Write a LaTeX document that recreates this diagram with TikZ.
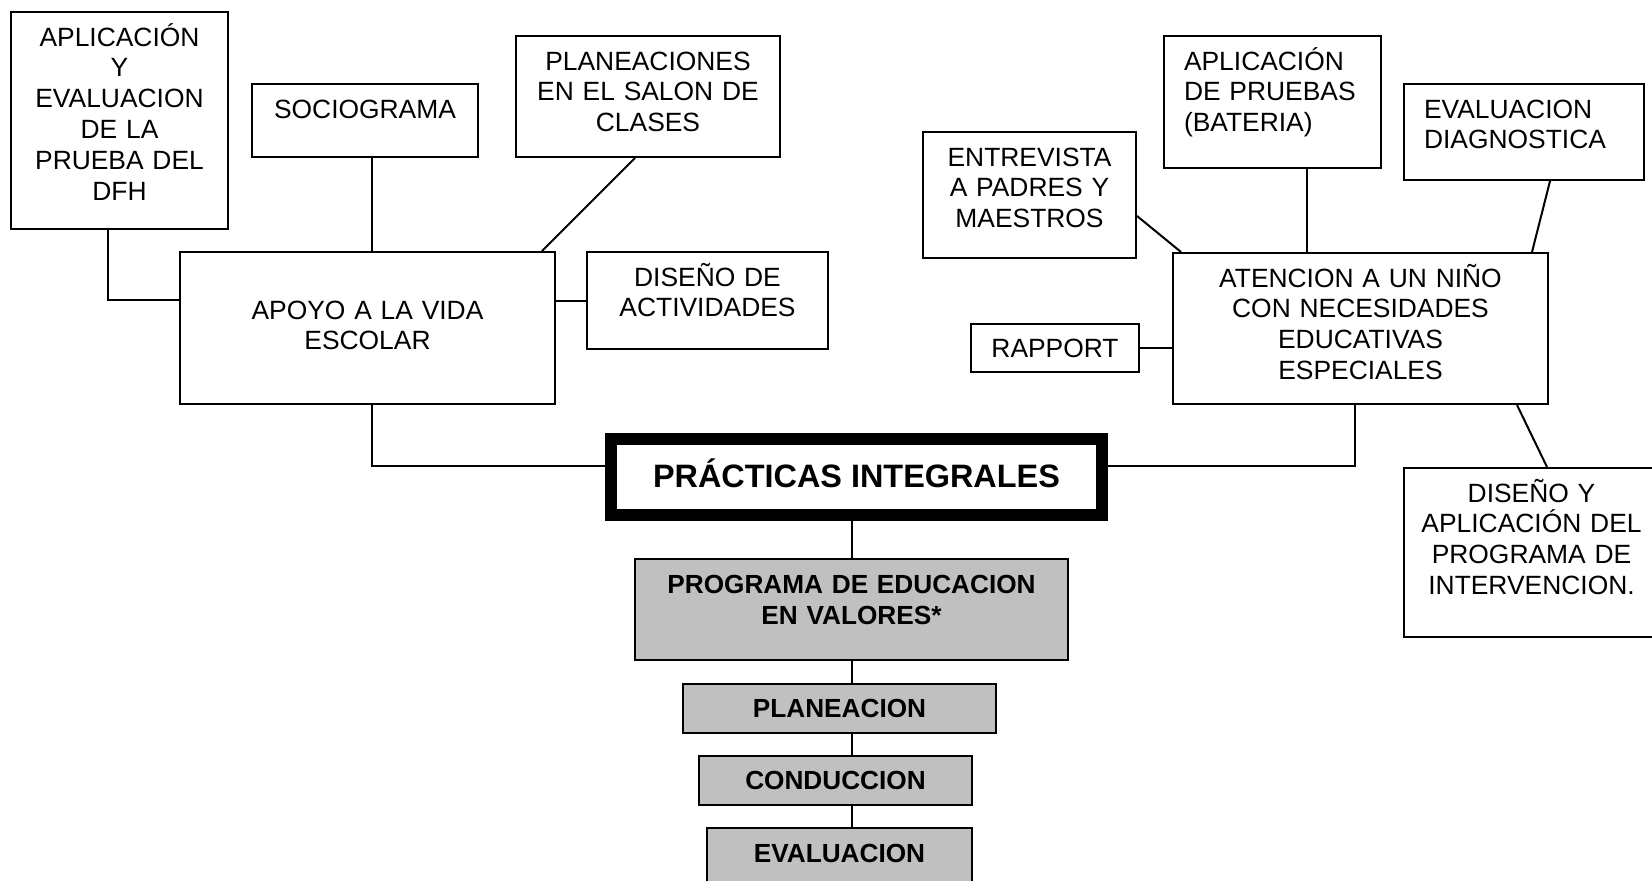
\documentclass[tikz,border=0pt]{standalone}
\usepackage{fontspec}
\setmainfont{Liberation Sans}
\definecolor{gris}{HTML}{C0C0C0}

\begin{document}
\begin{tikzpicture}[x=0.5pt, y=-0.5pt,
    bloque/.style={rectangle, draw=black, line width=1pt, align=center, anchor=north west, font=\fontsize{13.2}{15.4}\selectfont},
    bloquesup/.style={bloque, inner xsep=0pt, inner ysep=0pt, text height=17pt},
    bloqueizq/.style={bloquesup, align=left, inner xsep=10pt},
    bloquegris/.style={bloque, fill=gris, font=\bfseries\fontsize{13.1}{15.4}\selectfont},
    principal/.style={bloque, line width=6pt, text height=10.4pt, text depth=0pt, font=\bfseries\fontsize{16.2}{19}\selectfont} ]

    \useasboundingbox (0,0) rectangle (1652,880);

    %Nodes
    \node[principal, minimum width=245.5pt, minimum height=38pt] (practicas) at (605,433) {PRÁCTICAS INTEGRALES};
    \node[bloquesup, text width=187.5pt, text height=33.5pt, text depth=42.5pt] (apoyo) at (179,251) {APOYO A LA VIDA\\ESCOLAR};
    \node[bloquesup, text width=108.5pt, text depth=91.5pt] (aplicacion) at (10,11) {APLICACIÓN\\Y\\EVALUACION\\DE LA\\PRUEBA DEL\\DFH};
    \node[bloquesup, text width=113pt, text depth=19.5pt] (sociograma) at (251,83) {SOCIOGRAMA};
    \node[bloquesup, text width=132pt, text depth=43.5pt] (planeaciones) at (515,35) {PLANEACIONES\\EN EL SALON DE\\CLASES};
    \node[bloquesup, text width=120.5pt, text depth=31.5pt] (actividades) at (586,251) {DISEÑO DE\\ACTIVIDADES};
    \node[bloquesup, text width=187.5pt, text depth=58.5pt] (atencion) at (1172,252) {ATENCION A UN NIÑO\\CON NECESIDADES\\EDUCATIVAS\\ESPECIALES};
    \node[bloquesup, text width=106.5pt, text depth=46pt] (entrevista) at (922,131) {ENTREVISTA\\A PADRES Y\\MAESTROS};
    \node[bloqueizq, text width=88.5pt, text depth=49pt] (pruebas) at (1163,35) {APLICACIÓN\\DE PRUEBAS\\(BATERIA)};
    \node[bloqueizq, text width=100pt, text depth=31pt] (diagnostica) at (1403,83) {EVALUACION\\DIAGNOSTICA};
    \node[bloque, minimum width=84pt, minimum height=24pt] (rapport) at (970,323) {RAPPORT};
    \node[bloquesup, text width=127.5pt, text depth=67.5pt] (intervencion) at (1403,467) {DISEÑO Y\\APLICACIÓN DEL\\PROGRAMA DE\\INTERVENCION.};
    \node[bloquegris, inner xsep=0pt, inner ysep=0pt, text width=216.5pt, text height=17.4pt, text depth=33.1pt] (valores) at (634,558) {PROGRAMA DE EDUCACION\\EN VALORES*};
    \node[bloquegris, minimum width=156.5pt, minimum height=24.5pt] (planeacion) at (682,683) {PLANEACION};
    \node[bloquegris, minimum width=136.5pt, minimum height=24.5pt] (conduccion) at (698,755) {CONDUCCION};
    \node[bloquegris, inner ysep=0pt, text height=17pt, text depth=11pt, minimum width=132.5pt] (evaluacion) at (706,827) {EVALUACION};

    %Lines
    \draw[line width=1pt] ([xshift=-5.75pt]aplicacion.south) |- ([yshift=14pt]apoyo.west);
    \draw[line width=1pt] ([xshift=3.5pt]sociograma.south) -- ([xshift=3.5pt]sociograma.south |- apoyo.north);
    \draw[line width=1pt] ([xshift=-6.5pt]planeaciones.south) -- ([xshift=-7pt]apoyo.north east);
    \draw[line width=1pt] (actividades.west) -- (actividades.west -| apoyo.east);
    \draw[line width=1pt] ([xshift=2.25pt]apoyo.south) |- ([yshift=5.5pt]practicas.west);
    \draw[line width=1pt] ([xshift=-2.75pt]atencion.south) |- ([yshift=5.5pt]practicas.east);
    \draw[line width=1pt] ([yshift=-10.5pt]entrevista.east) -- ([xshift=4.5pt]atencion.north west);
    \draw[line width=1pt] ([xshift=17.25pt]pruebas.south) -- ([xshift=17.25pt]pruebas.south |- atencion.north);
    \draw[line width=1pt] ([xshift=13pt]diagnostica.south) -- ([xshift=-8.5pt]atencion.north east);
    \draw[line width=1pt] (rapport.east) -- (rapport.east -| atencion.west);
    \draw[line width=1pt] ([xshift=-16pt]atencion.south east) -- ([xshift=7.75pt]intervencion.north);
    \draw[line width=1pt] (valores.north) -- (valores.north |- practicas.south);
    \draw[line width=1pt] (valores.south) -- (valores.south |- planeacion.north);
    \draw[line width=1pt] (valores.south |- planeacion.south) -- (valores.south |- conduccion.north);
    \draw[line width=1pt] (valores.south |- conduccion.south) -- (valores.south |- evaluacion.north);
\end{tikzpicture}
\end{document}
